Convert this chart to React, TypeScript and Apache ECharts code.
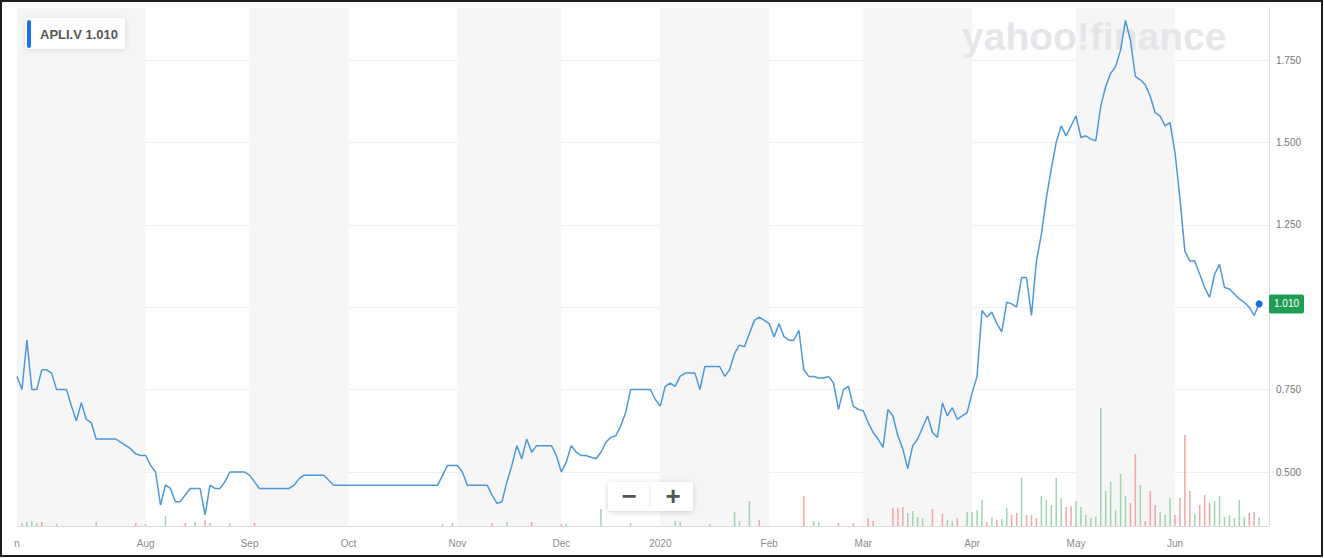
import { useEffect, useRef } from "react";
import * as echarts from "echarts";

const TICKER = "APLI.V";
const FIRST_DAY = "2019-06-25";
const LAST_AXIS_DAY = "2020-06-26";
const HOLIDAYS = [
  "2019-07-01", "2019-08-05", "2019-09-02", "2019-10-14", "2019-12-25",
  "2019-12-26", "2020-01-01", "2020-02-17", "2020-04-10", "2020-05-18",
];

const MONTH_LABELS: Record<string, string> = {
  "2019-06": "n",
  "2019-08": "Aug",
  "2019-09": "Sep",
  "2019-10": "Oct",
  "2019-11": "Nov",
  "2019-12": "Dec",
  "2020-01": "2020",
  "2020-02": "Feb",
  "2020-03": "Mar",
  "2020-04": "Apr",
  "2020-05": "May",
  "2020-06": "Jun",
};
const SHADED_MONTHS = ["2019-06", "2019-07", "2019-09", "2019-11", "2020-01", "2020-03", "2020-05"];

// daily close, one value per trading day (2019-06-25 .. 2020-06-24)
const PRICE = [
  0.79, 0.75, 0.90, 0.75, 0.75, 0.81, 0.81, 0.80, 0.75, 0.75,
  0.75, 0.70, 0.655, 0.71, 0.66, 0.65, 0.60, 0.60, 0.60, 0.60,
  0.60, 0.59, 0.58, 0.57, 0.555, 0.55, 0.55, 0.52, 0.50, 0.40,
  0.46, 0.45, 0.41, 0.41, 0.43, 0.45, 0.45, 0.45, 0.37, 0.46,
  0.45, 0.45, 0.47, 0.50, 0.50, 0.50, 0.50, 0.49, 0.47, 0.45,
  0.45, 0.45, 0.45, 0.45, 0.45, 0.45, 0.46, 0.48, 0.49, 0.49,
  0.49, 0.49, 0.49, 0.475, 0.46, 0.46, 0.46, 0.46, 0.46, 0.46,
  0.46, 0.46, 0.46, 0.46, 0.46, 0.46, 0.46, 0.46, 0.46, 0.46,
  0.46, 0.46, 0.46, 0.46, 0.46, 0.46, 0.49, 0.52, 0.52, 0.52,
  0.50, 0.46, 0.46, 0.46, 0.46, 0.46, 0.43, 0.405, 0.41, 0.47,
  0.52, 0.58, 0.54, 0.60, 0.56, 0.58, 0.58, 0.58, 0.58, 0.55,
  0.50, 0.53, 0.58, 0.56, 0.55, 0.55, 0.545, 0.54, 0.56, 0.59,
  0.605, 0.61, 0.64, 0.68, 0.75, 0.75, 0.75, 0.75, 0.75, 0.72,
  0.70, 0.76, 0.77, 0.76, 0.79, 0.80, 0.80, 0.80, 0.75, 0.82,
  0.82, 0.82, 0.82, 0.79, 0.81, 0.86, 0.885, 0.88, 0.92, 0.96,
  0.97, 0.96, 0.95, 0.91, 0.95, 0.91, 0.90, 0.90, 0.93, 0.81,
  0.79, 0.79, 0.785, 0.785, 0.79, 0.77, 0.69, 0.75, 0.76, 0.70,
  0.69, 0.686, 0.65, 0.62, 0.60, 0.575, 0.69, 0.67, 0.61, 0.57,
  0.51, 0.58, 0.60, 0.635, 0.67, 0.62, 0.605, 0.71, 0.67, 0.695,
  0.66, 0.67, 0.68, 0.74, 0.79, 0.99, 0.97, 0.985, 0.95, 0.925,
  1.015, 1.01, 1.00, 1.09, 1.09, 0.975, 1.14, 1.22, 1.33, 1.42,
  1.50, 1.55, 1.52, 1.55, 1.58, 1.515, 1.52, 1.51, 1.505, 1.61,
  1.67, 1.71, 1.73, 1.78, 1.87, 1.81, 1.70, 1.69, 1.675, 1.64,
  1.59, 1.58, 1.55, 1.56, 1.47, 1.33, 1.17, 1.14, 1.14, 1.10,
  1.06, 1.03, 1.10, 1.13, 1.06, 1.055, 1.04, 1.025, 1.015, 1.00,
  0.975, 1.01,
];

// volume (thousands of shares) on the days that show a bar
const VOLUME_DAY = [
  1, 2, 3, 4, 5, 8, 16, 24, 26, 30, 34, 36, 38, 39, 43, 48,
  86, 88, 96, 99, 104, 110, 111, 118, 124, 133, 134, 140, 145, 146, 148, 150,
  159, 161, 162, 166, 169, 172, 173, 177, 178, 179, 180, 181, 182, 183, 185, 187,
  188, 189, 190, 192, 193, 194, 195, 196, 197, 198, 199, 200, 201, 202, 203, 204,
  205, 206, 207, 208, 209, 210, 211, 212, 213, 214, 215, 216, 217, 218, 219, 220,
  221, 222, 223, 224, 225, 226, 227, 228, 229, 230, 231, 232, 233, 234, 235, 236,
  237, 238, 239, 240, 241, 242, 243, 244, 245, 246, 247, 248, 249, 250, 251,
];
const VOLUME_K = [
  30, 40, 50, 30, 40, 20, 40, 30, 20, 100, 30, 40, 60, 30, 30, 30,
  20, 30, 30, 40, 40, 20, 20, 170, 30, 50, 40, 20, 140, 50, 250, 60,
  300, 50, 40, 30, 30, 80, 50, 180, 180, 190, 130, 150, 90, 80, 170, 120,
  60, 50, 80, 140, 140, 160, 260, 40, 90, 60, 70, 180, 110, 130, 480, 110,
  110, 80, 300, 260, 210, 480, 280, 190, 200, 250, 190, 110, 80, 90, 1180, 350,
  440, 160, 520, 300, 230, 720, 410, 50, 350, 210, 140, 110, 280, 110, 280, 910,
  350, 120, 210, 310, 230, 250, 300, 90, 110, 80, 260, 90, 130, 140, 90,
];
const VOLUME_UP = [
  1, 1, 1, 1, 0, 1, 1, 0, 1, 1, 0, 1, 0, 1, 1, 0,
  1, 1, 0, 1, 0, 0, 1, 1, 1, 1, 1, 1, 1, 1, 1, 0,
  0, 1, 1, 0, 0, 0, 0, 0, 0, 0, 1, 1, 1, 1, 0, 0,
  1, 1, 0, 1, 1, 1, 1, 0, 1, 0, 1, 1, 0, 0, 1, 0,
  0, 0, 1, 1, 1, 1, 1, 0, 0, 1, 1, 1, 1, 1, 1, 1,
  1, 1, 1, 1, 0, 0, 1, 0, 0, 0, 1, 1, 1, 0, 0, 0,
  0, 1, 0, 0, 0, 1, 1, 1, 1, 1, 1, 1, 0, 0, 1,
];

function tradingDays(first: string, last: string, holidays: string[]): string[] {
  const out: string[] = [];
  const d = new Date(first + "T00:00:00Z");
  const end = new Date(last + "T00:00:00Z");
  while (d <= end) {
    const dow = d.getUTCDay();
    const s = d.toISOString().slice(0, 10);
    if (dow !== 0 && dow !== 6 && holidays.indexOf(s) < 0) out.push(s);
    d.setUTCDate(d.getUTCDate() + 1);
  }
  return out;
}

const GREEN = "#9ed5b0";
const RED = "#f2a5a5";
const LINE = "#4e98da";

export default function App() {
  const ref = useRef<HTMLDivElement>(null);

  useEffect(() => {
    document.body.style.margin = "0";
    if (!ref.current) return;
    const chart = echarts.init(ref.current, undefined, { renderer: "svg" });

    const DATES = tradingDays(FIRST_DAY, LAST_AXIS_DAY, HOLIDAYS);
    const N = DATES.length;

    const monthStarts: number[] = [];
    DATES.forEach((d, i) => {
      if (i === 0 || d.slice(0, 7) !== DATES[i - 1].slice(0, 7)) monthStarts.push(i);
    });
    const labelAt: Record<number, string> = {};
    monthStarts.forEach((i) => {
      const lab = MONTH_LABELS[DATES[i].slice(0, 7)];
      if (lab) labelAt[i] = lab;
    });
    const bands: any[] = [];
    monthStarts.forEach((s, k) => {
      const m = DATES[s].slice(0, 7);
      if (SHADED_MONTHS.indexOf(m) >= 0) {
        const e = k + 1 < monthStarts.length ? monthStarts[k + 1] : N - 1;
        bands.push([{ xAxis: DATES[s] }, { xAxis: DATES[e] }]);
      }
    });

    const volume: any[] = DATES.map(() => null);
    VOLUME_DAY.forEach((day, k) => {
      volume[day] = { value: VOLUME_K[k], itemStyle: { color: VOLUME_UP[k] ? GREEN : RED } };
    });

    const last = PRICE[PRICE.length - 1];
    const lastDate = DATES[PRICE.length - 1];

    const font = "'Liberation Sans', Arial, Helvetica, sans-serif";
    // price axis: 0.25 per 82.4px, 0.500 level at y = 472
    const priceMin = 0.25;
    const priceMax = 0.25 + (554.4 - 8) / 329.6;

    chart.setOption({
      animation: false,
      backgroundColor: "#ffffff",
      grid: [
        { left: 17, right: 55, top: 8, bottom: 3.6 },
        { left: 17, right: 55, top: 8, bottom: 32 },
      ],
      xAxis: [
        {
          type: "category",
          gridIndex: 0,
          data: DATES,
          boundaryGap: false,
          show: false,
        },
        {
          type: "category",
          gridIndex: 1,
          data: DATES,
          boundaryGap: false,
          axisLine: { lineStyle: { color: "#dcdcdc", width: 1 } },
          axisTick: { show: false },
          splitLine: { show: false },
          axisLabel: {
            interval: (index: number) => labelAt[index] !== undefined,
            formatter: (_v: string, index: number) => labelAt[index] || "",
            color: "#8c8c8c",
            fontSize: 10,
            fontFamily: font,
            margin: 12,
          },
        },
      ],
      yAxis: [
        {
          type: "value",
          gridIndex: 0,
          position: "right",
          min: priceMin,
          max: priceMax,
          interval: 0.25,
          axisLine: { show: false },
          axisTick: { show: false },
          splitLine: {
            show: true,
            showMinLine: false,
            showMaxLine: false,
            lineStyle: { color: "#efefef", width: 1 },
          },
          axisLabel: {
            color: "#777777",
            fontSize: 10,
            fontFamily: font,
            margin: 7,
            showMinLabel: false,
            showMaxLabel: false,
            formatter: (v: number) =>
              v <= 0.26 || v > 1.8 || Math.abs(v - 1) < 1e-9 ? "" : v.toFixed(3),
          },
        },
        {
          type: "value",
          gridIndex: 1,
          position: "right",
          min: 0,
          max: 5180,
          axisLine: { show: true, lineStyle: { color: "#dcdcdc", width: 1 } },
          axisTick: { show: false },
          axisLabel: { show: false },
          splitLine: { show: false },
        },
      ],
      series: [
        {
          type: "line",
          name: "bands",
          xAxisIndex: 1,
          yAxisIndex: 1,
          data: [],
          silent: true,
          z: 0,
          markArea: {
            silent: true,
            z: 0,
            itemStyle: { color: "#f6f6f6" },
            label: { show: false },
            data: bands,
          },
        },
        {
          type: "bar",
          name: "Volume",
          xAxisIndex: 1,
          yAxisIndex: 1,
          data: volume,
          barWidth: 1.5,
          silent: true,
          z: 2,
        },
        {
          type: "line",
          name: TICKER,
          xAxisIndex: 0,
          yAxisIndex: 0,
          data: PRICE,
          showSymbol: false,
          silent: true,
          z: 3,
          lineStyle: { color: LINE, width: 1.5 },
          itemStyle: { color: LINE },
          markPoint: {
            silent: true,
            symbol: "circle",
            symbolSize: 7,
            itemStyle: { color: "#1a6fe0" },
            label: { show: false },
            data: [{ coord: [lastDate, last] }],
          },
          markLine: {
            silent: true,
            symbol: "none",
            lineStyle: { color: "rgba(0,0,0,0)", width: 0, type: "solid" },
            label: {
              show: true,
              position: "end",
              distance: 0,
              formatter: () => last.toFixed(3),
              color: "#ffffff",
              backgroundColor: "#1f9d55",
              padding: [5, 5, 4, 5],
              borderRadius: 2,
              fontSize: 10,
              fontFamily: font,
            },
            data: [{ yAxis: last }],
          },
        },
      ],
      graphic: [
        {
          type: "text",
          z: 2,
          left: 962,
          top: 17,
          silent: true,
          style: {
            text: "yahoo!finance",
            fill: "#e6e6ea",
            font: "bold 39px 'Liberation Sans', Arial, sans-serif",
          },
        },
        {
          type: "group",
          left: 25,
          top: 18,
          z: 10,
          children: [
            {
              type: "rect",
              shape: { x: 0, y: 0, width: 100, height: 31, r: 2 },
              style: {
                fill: "#ffffff",
                shadowBlur: 6,
                shadowColor: "rgba(0,0,0,0.12)",
                shadowOffsetY: 1,
              },
              z: 10,
            },
            {
              type: "rect",
              shape: { x: 2, y: 2, width: 4, height: 28, r: 2 },
              style: { fill: "#1a73e8" },
              z: 11,
            },
            {
              type: "text",
              x: 15,
              y: 16,
              z: 11,
              style: {
                text: TICKER + " " + last.toFixed(3),
                fill: "#555555",
                font: "bold 13px 'Liberation Sans', Arial, sans-serif",
                verticalAlign: "middle",
              },
            },
          ],
        },
        {
          type: "group",
          left: 608,
          top: 482,
          z: 10,
          children: [
            {
              type: "rect",
              shape: { x: 0, y: 0, width: 85, height: 29, r: 2 },
              style: {
                fill: "#ffffff",
                shadowBlur: 5,
                shadowColor: "rgba(0,0,0,0.18)",
                shadowOffsetY: 1,
              },
              z: 10,
            },
            {
              type: "line",
              shape: { x1: 42, y1: 4, x2: 42, y2: 25 },
              style: { stroke: "#e6e6e6", lineWidth: 1 },
              z: 11,
            },
            {
              type: "text",
              x: 21,
              y: 14,
              z: 11,
              style: {
                text: "−",
                fill: "#555555",
                font: "bold 26px 'Liberation Sans', Arial, sans-serif",
                align: "center",
                verticalAlign: "middle",
              },
            },
            {
              type: "text",
              x: 65,
              y: 14,
              z: 11,
              style: {
                text: "+",
                fill: "#555555",
                font: "bold 26px 'Liberation Sans', Arial, sans-serif",
                align: "center",
                verticalAlign: "middle",
              },
            },
          ],
        },
        {
          type: "rect",
          z: 50,
          silent: true,
          shape: { x: 1, y: 1, width: 1321, height: 555 },
          style: { fill: "none", stroke: "#1e1e1e", lineWidth: 2 },
        },
      ],
    });

    return () => chart.dispose();
  }, []);

  return <div ref={ref} style={{ width: 1324, height: 558 }} />;
}
